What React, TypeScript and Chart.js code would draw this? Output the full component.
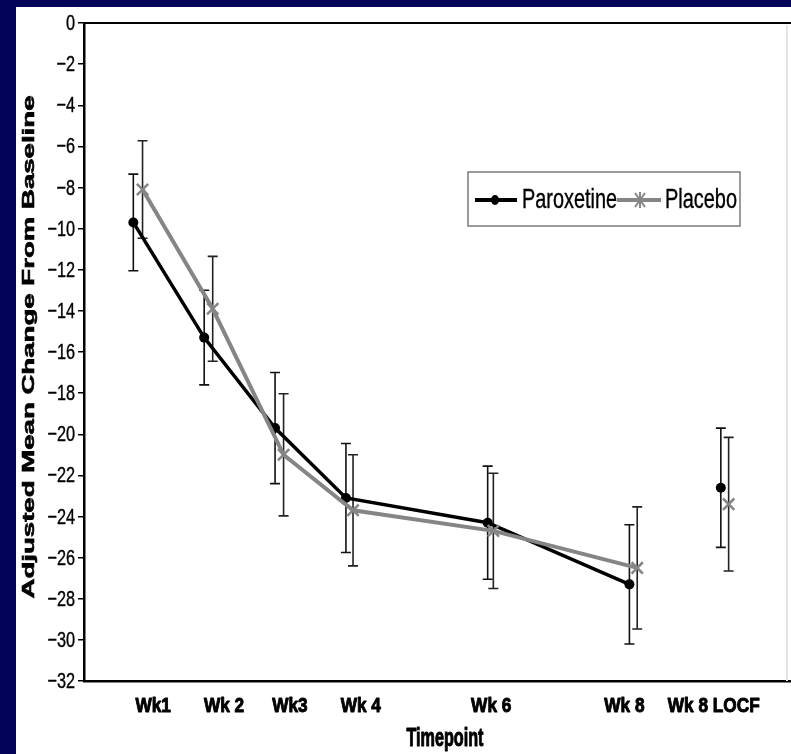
import React, { useEffect, useRef } from "react";
import { Chart, registerables } from "chart.js";

Chart.register(...registerables);

// ---- data ----
const tickLabels = ["Wk1", "Wk 2", "Wk3", "Wk 4", "Wk 6", "Wk 8", "Wk 8 LOCF"];
const tickPositions = [1.28, 2.28, 3.21, 4.21, 6.05, 7.93, 9.19];

const paroxetineWeeks = [1, 2, 3, 4, 6, 8, 9.29];
const paroxetineMean = [-9.7, -15.3, -19.7, -23.1, -24.3, -27.3, -22.6];
const paroxetineErr = [2.35, 2.3, 2.7, 2.65, 2.75, 2.9, 2.9];

const placeboWeeks = [1.13, 2.12, 3.12, 4.1, 6.08, 8.11, 9.4];
const placeboMean = [-8.1, -13.9, -21.0, -23.7, -24.7, -26.5, -23.4];
const placeboErr = [2.37, 2.55, 2.97, 2.7, 2.8, 2.97, 3.25];

const seriesNames = ["Paroxetine", "Placebo"];
const yTitle = "Adjusted Mean Change From Baseline";
const xTitle = "Timepoint";

const NAVY = "#03035a";
const GRAY = "#858585";
const SANS = '"Liberation Sans", Arial, Helvetica, sans-serif';

const fmtY = (v: number) => (v < 0 ? "\u2212" + Math.abs(v) : String(v));

const errorBarPlugin = {
  id: "errorBars",
  beforeDatasetsDraw(chart: any) {
    const ctx = chart.ctx;
    const ys = chart.scales.y;
    const xs = chart.scales.x;
    const sets = [
      { w: paroxetineWeeks, m: paroxetineMean, e: paroxetineErr, c: "#111" },
      { w: placeboWeeks, m: placeboMean, e: placeboErr, c: "#222" },
    ];
    ctx.save();
    sets.forEach((s) => {
      ctx.strokeStyle = s.c;
      ctx.lineWidth = 1.6;
      s.w.forEach((wk, i) => {
        const x = xs.getPixelForValue(wk);
        const yt = ys.getPixelForValue(s.m[i] + s.e[i]);
        const yb = ys.getPixelForValue(s.m[i] - s.e[i]);
        ctx.beginPath();
        ctx.moveTo(x, yt);
        ctx.lineTo(x, yb);
        ctx.moveTo(x - 5, yt);
        ctx.lineTo(x + 5, yt);
        ctx.moveTo(x - 5, yb);
        ctx.lineTo(x + 5, yb);
        ctx.stroke();
      });
    });
    ctx.restore();
  },
};

// condensed text helper (optional stroke for heavier weight)
function condText(ctx: any, text: string, x: number, y: number, sx: number, align: string, heavy = 0) {
  ctx.save();
  ctx.translate(x, y);
  ctx.scale(sx, 1);
  ctx.textAlign = align;
  ctx.fillText(text, 0, 0);
  if (heavy > 0) {
    ctx.lineWidth = heavy;
    ctx.strokeStyle = ctx.fillStyle;
    ctx.lineJoin = "round";
    ctx.strokeText(text, 0, 0);
  }
  ctx.restore();
}

const decorPlugin = {
  id: "decor",
  afterDraw(chart: any) {
    const ctx = chart.ctx;
    const a = chart.chartArea;
    const xs = chart.scales.x;
    const ys = chart.scales.y;
    ctx.save();
    // top frame line
    ctx.strokeStyle = "#000";
    ctx.lineWidth = 2;
    ctx.beginPath();
    ctx.moveTo(a.left, a.top);
    ctx.lineTo(a.right, a.top);
    ctx.stroke();
    // faint right line
    ctx.strokeStyle = "#e4e4e4";
    ctx.lineWidth = 2;
    ctx.beginPath();
    ctx.moveTo(a.right - 4, a.top + 2);
    ctx.lineTo(a.right - 4, a.bottom);
    ctx.stroke();
    ctx.restore();

    // y tick labels (condensed), from the scale's ticks
    ctx.save();
    ctx.fillStyle = "#000";
    ctx.font = `22px ${SANS}`;
    ctx.textBaseline = "middle";
    ys.ticks.forEach((t: any) => {
      condText(ctx, fmtY(t.value), a.left - 9, ys.getPixelForValue(t.value) + 1, 0.74, "right", 0.4);
    });
    // x tick labels (condensed bold)
    ctx.font = `bold 21px ${SANS}`;
    ctx.textBaseline = "middle";
    xs.ticks.forEach((t: any, i: number) => {
      condText(ctx, tickLabels[i], xs.getPixelForValue(t.value), a.bottom + 25, 0.82, "center", 1);
    });
    ctx.restore();

    // y title (stretched)
    ctx.save();
    ctx.fillStyle = "#000";
    ctx.font = `bold 17px ${SANS}`;
    const w = ctx.measureText(yTitle).width;
    ctx.translate(13, (a.top + a.bottom) / 2 - 5);
    ctx.rotate(-Math.PI / 2);
    ctx.scale(503 / w, 1);
    ctx.textAlign = "center";
    ctx.textBaseline = "middle";
    ctx.fillText(yTitle, 0, 0);
    ctx.lineWidth = 0.6;
    ctx.strokeStyle = "#000";
    ctx.strokeText(yTitle, 0, 0);
    ctx.restore();

    // x title (condensed)
    ctx.save();
    ctx.fillStyle = "#000";
    ctx.font = `bold 25px ${SANS}`;
    const tw = ctx.measureText(xTitle).width;
    ctx.textBaseline = "alphabetic";
    condText(ctx, xTitle, 429, a.bottom + 65, 77 / tw, "center", 1);
    ctx.restore();

    // legend
    ctx.save();
    const bx = a.left + 384;
    const by = a.top + 149;
    const bw = 272;
    const bh = 54;
    ctx.strokeStyle = "#7a7a7a";
    ctx.lineWidth = 1.5;
    ctx.strokeRect(bx, by, bw, bh);
    const cy = by + 28;
    ctx.strokeStyle = "#000";
    ctx.lineWidth = 4;
    ctx.beginPath();
    ctx.moveTo(bx + 7, cy);
    ctx.lineTo(bx + 49, cy);
    ctx.stroke();
    ctx.fillStyle = "#000";
    ctx.beginPath();
    ctx.ellipse(bx + 27, cy, 4, 5, 0, 0, Math.PI * 2);
    ctx.fill();
    ctx.font = `28px ${SANS}`;
    ctx.textBaseline = "alphabetic";
    const t1 = ctx.measureText(seriesNames[0]).width;
    condText(ctx, seriesNames[0], bx + 54, cy + 8, 95 / t1, "left", 0.4);
    ctx.strokeStyle = GRAY;
    ctx.lineWidth = 4;
    ctx.beginPath();
    ctx.moveTo(bx + 149, cy);
    ctx.lineTo(bx + 193, cy);
    ctx.stroke();
    ctx.lineWidth = 2;
    const sxp = bx + 172;
    ctx.beginPath();
    ctx.moveTo(sxp - 5, cy - 7);
    ctx.lineTo(sxp + 5, cy + 7);
    ctx.moveTo(sxp + 5, cy - 7);
    ctx.lineTo(sxp - 5, cy + 7);
    ctx.moveTo(sxp, cy - 8);
    ctx.lineTo(sxp, cy + 8);
    ctx.stroke();
    const t2 = ctx.measureText(seriesNames[1]).width;
    condText(ctx, seriesNames[1], bx + 197, cy + 8, 72 / t2, "left", 0.4);
    ctx.restore();
  },
};

export default function App() {
  const ref = useRef<HTMLCanvasElement | null>(null);

  useEffect(() => {
    if (!ref.current) return;
    const hideLast = (ctx: any) =>
      ctx.p1DataIndex === paroxetineWeeks.length - 1 ? "rgba(0,0,0,0)" : undefined;
    const chart = new Chart(ref.current, {
      type: "line",
      data: {
        datasets: [
          {
            label: seriesNames[0],
            data: paroxetineWeeks.map((w, i) => ({ x: w, y: paroxetineMean[i] })),
            borderColor: "#000",
            backgroundColor: "#000",
            borderWidth: 3.5,
            pointStyle: "circle",
            pointRadius: 5,
            pointBorderWidth: 0,
            pointBackgroundColor: "#000",
            segment: { borderColor: hideLast },
            order: 2,
          },
          {
            label: seriesNames[1],
            data: placeboWeeks.map((w, i) => ({ x: w, y: placeboMean[i] })),
            borderColor: GRAY,
            backgroundColor: GRAY,
            borderWidth: 4,
            pointStyle: "crossRot",
            pointRadius: 8,
            pointBorderWidth: 2.5,
            pointBorderColor: GRAY,
            segment: { borderColor: hideLast },
            order: 1,
          },
        ],
      },
      options: {
        animation: false,
        responsive: false,
        maintainAspectRatio: false,
        layout: { autoPadding: false, padding: { top: 16, right: 0, bottom: 0, left: 0 } },
        plugins: {
          legend: { display: false },
          tooltip: { enabled: false },
        },
        scales: {
          x: {
            type: "linear",
            min: 0.304,
            max: 10.28,
            afterBuildTicks: (scale: any) => {
              scale.ticks = tickPositions.map((v) => ({ value: v }));
            },
            afterFit: (scale: any) => {
              scale.height = 73;
              scale.paddingLeft = 0;
              scale.paddingRight = 0;
            },
            grid: { display: false, drawTicks: false },
            border: { display: true, color: "#000", width: 2.5 },
            ticks: { display: false, autoSkip: false, maxRotation: 0 },
          },
          y: {
            type: "linear",
            min: -32,
            max: 0,
            afterFit: (scale: any) => {
              scale.width = 68;
              scale.paddingTop = 0;
              scale.paddingBottom = 0;
            },
            grid: {
              display: true,
              drawOnChartArea: false,
              drawTicks: true,
              tickLength: 6,
              color: "#000",
              lineWidth: 1.5,
            },
            border: { display: true, color: "#000", width: 2.5 },
            ticks: { display: false, stepSize: 2 },
          },
        },
      },
      plugins: [errorBarPlugin, decorPlugin],
    } as any);
    return () => chart.destroy();
  }, []);

  return (
    <div
      style={{
        position: "fixed",
        left: 0,
        top: 0,
        width: 791,
        height: 754,
        background: NAVY,
        overflow: "hidden",
      }}
    >
      <div
        style={{
          position: "absolute",
          left: 16,
          top: 7,
          width: 775,
          height: 747,
          background: "#fff",
        }}
      >
        <canvas ref={ref} width={775} height={747} style={{ display: "block" }} />
      </div>
    </div>
  );
}
